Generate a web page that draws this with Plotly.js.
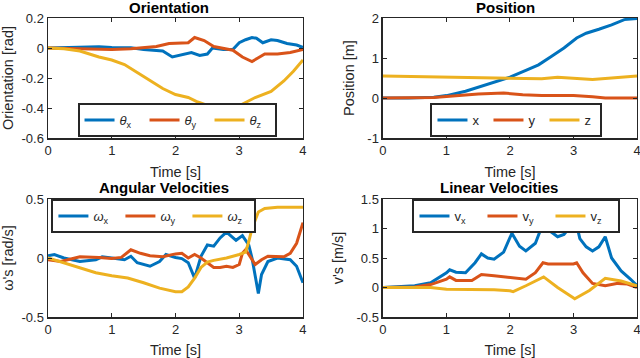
<!DOCTYPE html>
<html>
<head>
<meta charset="utf-8">
<script src="https://cdn.plot.ly/plotly-3.0.1.min.js"></script>
<style>
  html, body { margin: 0; padding: 0; background: #fff; }
  #plotArea { width: 640px; height: 358px; }
</style>
</head>
<body>
<div id="plotArea"></div>
<script>
// orientation [rad]
let tThX = [0, 0.3, 0.6, 0.8, 1.0, 1.3, 1.5, 1.8, 1.95, 2.1, 2.25, 2.38, 2.5, 2.58, 2.75, 2.9, 3.0, 3.1, 3.2, 3.27, 3.37, 3.5, 3.6, 3.75, 3.9, 4.0];
let thX = [0, 0.003, 0.002, 0.008, 0.003, 0.002, -0.01, -0.02, -0.06, -0.045, -0.03, -0.05, -0.04, 0, -0.01, -0.01, 0.035, 0.055, 0.07, 0.065, 0.035, 0.055, 0.05, 0.03, 0.02, 0.004];
let tThY = [0, 0.5, 1.0, 1.3, 1.4, 1.7, 1.9, 2.1, 2.2, 2.3, 2.45, 2.6, 2.75, 2.9, 3.05, 3.2, 3.3, 3.4, 3.6, 3.8, 4.0];
let thY = [0, -0.005, -0.01, -0.005, 0, 0.01, 0.03, 0.03, 0.035, 0.07, 0.05, 0.01, -0.005, -0.015, -0.06, -0.09, -0.065, -0.04, -0.04, -0.03, -0.01];
let tThZ = [0, 0.25, 0.5, 0.8, 1.0, 1.2, 1.5, 1.8, 2.0, 2.2, 2.35, 2.6, 2.8, 2.9, 3.0, 3.25, 3.5, 3.7, 3.85, 4.0];
let thZ = [0, -0.005, -0.02, -0.06, -0.08, -0.11, -0.19, -0.27, -0.31, -0.33, -0.36, -0.40, -0.43, -0.41, -0.385, -0.33, -0.29, -0.22, -0.155, -0.08];

// position [m]
let tPx = [0, 0.4, 0.8, 1.0, 1.3, 1.5, 1.75, 2.0, 2.25, 2.45, 2.65, 2.85, 3.05, 3.2, 3.4, 3.6, 3.8, 4.0];
let posX = [0, 0, 0.02, 0.06, 0.17, 0.27, 0.39, 0.52, 0.69, 0.83, 1.04, 1.25, 1.5, 1.62, 1.72, 1.83, 1.96, 1.99];
let tPy = [0, 0.8, 1.0, 1.5, 1.9, 2.2, 2.5, 3.0, 3.3, 3.5, 4.0];
let posY = [0, 0.01, 0.04, 0.1, 0.125, 0.08, 0.06, 0.06, 0.03, 0, 0];
let tPz = [0, 1, 2, 2.5, 2.75, 3.3, 3.6, 4];
let posZ = [0.55, 0.52, 0.48, 0.48, 0.52, 0.46, 0.5, 0.55];

// angular velocities [rad/s]
let tWx = [0, 0.1, 0.25, 0.5, 0.75, 0.85, 1.0, 1.2, 1.3, 1.4, 1.6, 1.75, 1.85, 2.0, 2.1, 2.2, 2.3, 2.35, 2.4, 2.5, 2.6, 2.7, 2.8, 2.95, 3.05, 3.15, 3.2, 3.3, 3.35, 3.45, 3.6, 3.8, 3.9, 4.0];
let wX = [0.02, 0.03, 0, -0.03, -0.015, 0.01, 0, -0.015, 0.015, -0.04, -0.07, -0.03, 0.03, 0.005, -0.005, -0.04, -0.17, -0.07, 0.015, 0.11, 0.1, 0.17, 0.22, 0.15, 0.19, 0.11, 0, -0.3, -0.14, -0.03, 0, -0.015, -0.07, -0.21];
let tWy = [0, 0.2, 0.5, 0.8, 1.0, 1.15, 1.3, 1.45, 1.6, 1.8, 2.0, 2.1, 2.2, 2.3, 2.4, 2.5, 2.6, 2.7, 2.8, 2.9, 3.0, 3.05, 3.1, 3.15, 3.25, 3.35, 3.45, 3.7, 3.8, 3.9, 4.0];
let wY = [-0.015, -0.03, 0.01, 0.005, -0.005, 0.005, 0.07, 0.04, 0.02, 0.01, 0.035, 0.04, 0, 0.03, 0, -0.04, -0.08, -0.08, -0.07, -0.08, -0.055, 0.04, 0.07, 0.03, -0.055, -0.015, 0.015, 0.01, 0.04, 0.125, 0.3];
let tWz = [0, 0.25, 0.5, 0.75, 1.0, 1.25, 1.5, 1.75, 2.0, 2.1, 2.2, 2.3, 2.4, 2.5, 2.6, 2.8, 3.0, 3.1, 3.15, 3.2, 3.3, 3.4, 3.6, 4.0];
let wZ = [0, -0.04, -0.08, -0.125, -0.15, -0.17, -0.21, -0.255, -0.285, -0.285, -0.245, -0.17, -0.08, -0.035, -0.02, 0, 0.03, 0.05, 0.14, 0.25, 0.39, 0.42, 0.43, 0.43];

// linear velocities [m/s]
let tVx = [0, 0.5, 0.75, 1.0, 1.05, 1.15, 1.3, 1.45, 1.55, 1.65, 1.75, 1.9, 2.03, 2.15, 2.25, 2.4, 2.5, 2.55, 2.65, 2.75, 2.85, 2.95, 3.02, 3.1, 3.2, 3.3, 3.4, 3.5, 3.6, 3.75, 3.9, 4.0];
let vX = [0, 0.03, 0.08, 0.25, 0.3, 0.26, 0.25, 0.42, 0.57, 0.5, 0.48, 0.6, 0.92, 0.7, 0.62, 0.75, 1.03, 1.2, 0.94, 0.86, 0.9, 1.03, 1.2, 0.83, 0.69, 0.62, 0.69, 0.86, 0.5, 0.28, 0.14, 0.03];
let tVy = [0, 0.5, 0.75, 1.0, 1.05, 1.15, 1.4, 1.55, 1.75, 2.0, 2.25, 2.4, 2.52, 2.6, 3.0, 3.05, 3.15, 3.3, 3.5, 3.7, 3.85, 4.0];
let vY = [0, 0.01, 0.05, 0.14, 0.18, 0.12, 0.12, 0.22, 0.2, 0.17, 0.14, 0.25, 0.42, 0.4, 0.4, 0.42, 0.25, 0.07, 0.03, 0.07, 0.06, 0];
let tVz = [0, 0.75, 1.0, 1.5, 1.75, 2.0, 2.05, 2.25, 2.53, 2.75, 3.02, 3.25, 3.5, 3.75, 4.0];
let vZ = [0, 0, -0.03, -0.03, -0.04, -0.055, -0.07, 0.03, 0.18, 0, -0.19, -0.05, 0.155, 0.11, 0.03];

// tick labels
let xTicks = [0, 1, 2, 3, 4];
let oriTicks = [-0.6, -0.4, -0.2, 0, 0.2];
let oriLabels = ["-0.6", "-0.4", "-0.2", "0", "0.2"];
let posTicks = [-1, 0, 1, 2];
let posLabels = ["-1", "0", "1", "2"];
let angTicks = [-0.5, 0, 0.5];
let angLabels = ["-0.5", "0", "0.5"];
let linTicks = [-0.5, 0, 0.5, 1, 1.5];
let linLabels = ["-0.5", "0", "0.5", "1", "1.5"];

let blue = "#0072BD", red = "#D95319", yellow = "#EDB120";

function line(x, y, name, color, ax, leg) {
  return {
    x: x, y: y, name: name, type: "scatter", mode: "lines",
    line: { color: color, width: 3 },
    xaxis: "x" + ax, yaxis: "y" + ax, legend: leg
  };
}

let data = [
  line(tThX, thX, "<i>θ</i><sub>x</sub>", blue, "", "legend"),
  line(tThY, thY, "<i>θ</i><sub>y</sub>", red, "", "legend"),
  line(tThZ, thZ, "<i>θ</i><sub>z</sub>", yellow, "", "legend"),
  line(tPx, posX, "x", blue, "2", "legend2"),
  line(tPy, posY, "y", red, "2", "legend2"),
  line(tPz, posZ, "z", yellow, "2", "legend2"),
  line(tWx, wX, "<i>ω</i><sub>x</sub>", blue, "3", "legend3"),
  line(tWy, wY, "<i>ω</i><sub>y</sub>", red, "3", "legend3"),
  line(tWz, wZ, "<i>ω</i><sub>z</sub>", yellow, "3", "legend3"),
  line(tVx, vX, "v<sub>x</sub>", blue, "4", "legend4"),
  line(tVy, vY, "v<sub>y</sub>", red, "4", "legend4"),
  line(tVz, vZ, "v<sub>z</sub>", yellow, "4", "legend4")
];

let ink = "#262626";
let fam = "Liberation Sans, Arial, sans-serif";
let tickFont = { family: fam, size: 13, color: ink, weight: "normal" };
let titleFont = { family: fam, size: 14.5, color: ink, weight: "normal" };

function xAxis(dom, anchor) {
  return {
    domain: dom, anchor: anchor, range: [0, 4],
    tickvals: xTicks, ticks: "inside", ticklen: 4, tickcolor: ink,
    showline: true, linecolor: ink, linewidth: 1.5, mirror: "ticks",
    showgrid: false, zeroline: false, tickfont: tickFont,
    ticklabeloverflow: "allow",
    title: { text: "Time [s]", font: titleFont, standoff: 9 }
  };
}
function yAxis(dom, anchor, rng, vals, labels, title) {
  return {
    domain: dom, anchor: anchor, range: rng,
    tickvals: vals, ticktext: labels, ticks: "inside", ticklen: 4, tickcolor: ink,
    showline: true, linecolor: ink, linewidth: 1.5, mirror: "ticks",
    showgrid: false, zeroline: false, tickfont: tickFont,
    ticklabeloverflow: "allow",
    title: { text: title, font: titleFont, standoff: 9 }
  };
}
function legendBox(x, y, yanchor, ew) {
  return {
    x: x, y: y, xanchor: "center", yanchor: yanchor, orientation: "h",
    bgcolor: "#fff", bordercolor: ink, borderwidth: 2,
    font: { family: fam, size: 13, color: ink, weight: "normal" },
    itemwidth: 30, tracegroupgap: 0, entrywidth: ew, entrywidthmode: "pixels"
  };
}

let leftDom = [0.075, 0.4734], rightDom = [0.5984, 0.9953];
let topDom = [0.6145, 0.9497], botDom = [0.1145, 0.4441];
let boldFont = { family: fam, size: 15, color: "#000", weight: "bold" };

function heading(text, x, y) {
  return {
    text: "<b>" + text + "</b>", x: x, y: y, xref: "paper", yref: "paper",
    xanchor: "center", yanchor: "middle", showarrow: false, font: boldFont
  };
}

let layout = {
  width: 640, height: 358,
  margin: { l: 0, r: 0, t: 0, b: 0 },
  paper_bgcolor: "#fff", plot_bgcolor: "#fff",
  showlegend: true,
  xaxis: xAxis(leftDom, "y"),
  yaxis: yAxis(topDom, "x", [-0.6, 0.2], oriTicks, oriLabels, "Orientation [rad]"),
  xaxis2: xAxis(rightDom, "y2"),
  yaxis2: yAxis(topDom, "x2", [-1, 2], posTicks, posLabels, "Position [m]"),
  xaxis3: xAxis(leftDom, "y3"),
  yaxis3: yAxis(botDom, "x3", [-0.5, 0.5], angTicks, angLabels, "ω's [rad/s]"),
  xaxis4: xAxis(rightDom, "y4"),
  yaxis4: yAxis(botDom, "x4", [-0.5, 1.5], linTicks, linLabels, "v's [m/s]"),
  legend: legendBox(0.2766, 0.617, "bottom", 20),
  legend2: legendBox(0.807, 0.617, "bottom", 11),
  legend3: legendBox(0.2405, 0.444, "top", 22),
  legend4: legendBox(0.807, 0.444, "top", 23),
  annotations: [
    heading("Orientation", 0.2633, 0.978),
    heading("Position", 0.7906, 0.978),
    heading("Angular Velocities", 0.2563, 0.475),
    heading("Linear Velocities", 0.7797, 0.475)
  ]
};

Plotly.newPlot("plotArea", data, layout, { staticPlot: true });
</script>
</body>
</html>
